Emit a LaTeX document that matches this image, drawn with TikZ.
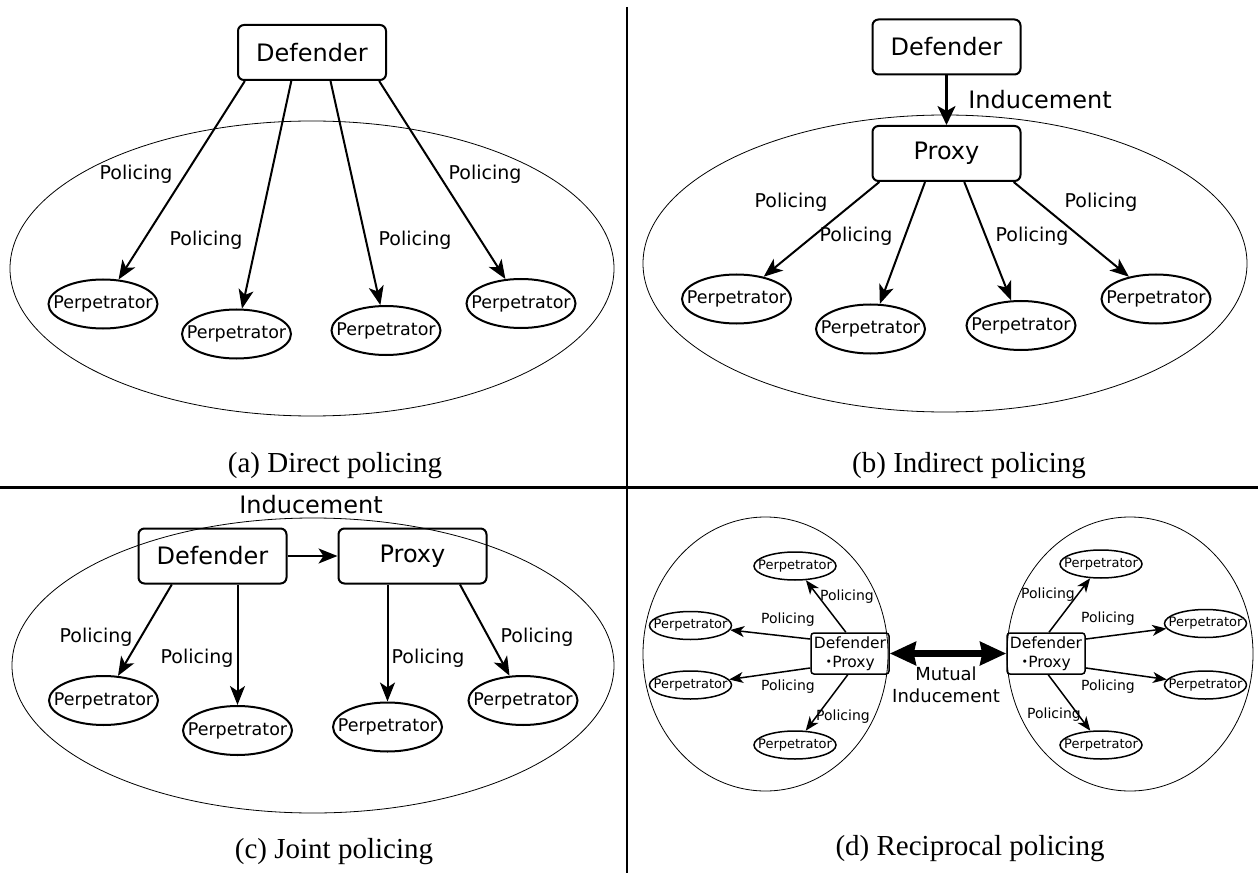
\documentclass[tikz,border=0pt]{standalone}
\usepackage{fontspec}
\setmainfont{DejaVu Sans}
\newfontfamily\capfont{Liberation Serif}
\newfontfamily\cjk{Noto Sans CJK JP}
\usetikzlibrary{arrows.meta,shapes.geometric}
\newcommand{\pname}{\makebox[0pt]{Perpetrator}}

\begin{document}
\begin{tikzpicture}[x=1pt,y=-1pt,
	>={Stealth[length=19pt,width=15pt,inset=5pt]},
	box/.style={draw,rounded corners=6pt,line width=2pt,minimum width=148pt,minimum height=55pt,inner sep=0pt,font=\fontsize{24}{28}\selectfont},
	perp/.style={draw,ellipse,line width=2pt,minimum width=109pt,minimum height=49pt,inner sep=0pt,font=\fontsize{17.5}{20}\selectfont},
	lab/.style={font=\fontsize{19}{22}\selectfont},
	biglab/.style={font=\fontsize{24}{28}\selectfont},
	arr/.style={->,line width=2pt},
	group/.style={line width=0.8pt},
	captext/.style={font=\capfont\fontsize{29}{32}\selectfont},
	sbox/.style={draw,rounded corners=3pt,line width=1.5pt,minimum width=78pt,minimum height=41pt,inner sep=0pt,align=center,font=\fontsize{15.5}{19}\selectfont},
	sperp/.style={draw,ellipse,line width=1.5pt,minimum width=82pt,minimum height=28pt,inner sep=0pt,font=\fontsize{13}{15}\selectfont},
	slab/.style={font=\fontsize{14}{16}\selectfont},
	sarr/.style={-{Stealth[length=14pt,width=11pt,inset=4pt]},line width=1.5pt}]
	
	\useasboundingbox (0,0) rectangle (1258,877);
	\draw[line width=2.5pt] (627,7) -- (627,873);
	\draw[line width=3pt] (0,487) -- (1258,487);
	
	% direct
	
	\draw[group] (312,268.5) ellipse [x radius=302, y radius=147.5];
	\node[box] (DA) at (312,52.5) {Defender};
	\foreach \n/\xx/\yy in {1/103/304,2/236.5/334,3/386/330.5,4/521/303.5}
		\node[perp] (PA\n) at (\xx,\yy) {\pname};
	\foreach \n/\a in {1/203,2/234,3/303,4/337}
		\draw[arr] (DA.\a) -- (PA\n);
	\node[lab] (LA1) at (136,174) {Policing};
	\node[lab] (LA2) at (206,240) {Policing};
	\node[lab] (LA3) at (415,240) {Policing};
	\node[lab] (LA4) at (485,174) {Policing};
	\node[captext] (CA) at (335,466) {(a) Direct policing};
	
	% indirect
	
	\draw[group] (945,263.5) ellipse [x radius=302, y radius=148.5];
	\node[box] (DB) at (946.5,47) {Defender};
	\node[box] (QB) at (946.5,153.5) {Proxy};
	\draw[->,line width=2.8pt,>={Stealth[length=19pt,width=18pt,inset=5pt]}] (DB) -- (QB);
	\node[biglab] (IB) at (1040,100) {Inducement};
	\foreach \n/\xx/\yy in {1/736.5/299,2/870.5/329,3/1021/325.5,4/1156/299}
		\node[perp] (PB\n) at (\xx,\yy) {\pname};
	\foreach \n/\a in {1/203,2/233,3/302,4/337}
		\draw[arr] (QB.\a) -- (PB\n);
	\node[lab] (LB1) at (791,202) {Policing};
	\node[lab] (LB2) at (856,236) {Policing};
	\node[lab] (LB3) at (1032,236) {Policing};
	\node[lab] (LB4) at (1101,202) {Policing};
	\node[captext] (CB) at (969,466) {(b) Indirect policing};
	
	% joint
	
	\draw[group] (313,665.5) ellipse [x radius=301, y radius=147.5];
	\node[biglab] (IC) at (311,505) {Inducement};
	\node[box] (DC) at (212.5,556) {Defender};
	\node[box] (QC) at (412.5,556) {Proxy};
	\draw[arr] (DC) -- (QC);
	\foreach \n/\xx/\yy in {1/103.5/700.5,2/237.5/730.5,3/387.5/727,4/523/700.5}
		\node[perp] (PC\n) at (\xx,\yy) {\pname};
	\draw[arr] (DC.215) -- (PC1);
	\draw[arr] (PC2 |- DC.south) -- (PC2);
	\draw[arr] (PC3 |- QC.south) -- (PC3);
	\draw[arr] (QC.329) -- (PC4);
	\node[lab] (LC1) at (96,637) {Policing};
	\node[lab] (LC2) at (197,658) {Policing};
	\node[lab] (LC3) at (428,658) {Policing};
	\node[lab] (LC4) at (537,637) {Policing};
	\node[captext] (CC) at (334,852) {(c) Joint policing};
	
	% reciprocal
	
	\draw[group] (765.5,654) ellipse [x radius=122.5, y radius=137];
	\draw[group] (1130,654) ellipse [x radius=123, y radius=137];
	\node[sbox] (DL) at (850,653.5) {Defender\\\makebox[7pt]{\cjk ・}Proxy};
	\node[sbox] (DR) at (1046,653.5) {Defender\\\makebox[7pt]{\cjk ・}Proxy};
	\draw[<->,line width=7.5pt,>={Stealth[length=26pt,width=23pt,inset=2pt]}] (DL) -- (DR);
	\node[align=center,font=\fontsize{18}{22}\selectfont] (MI) at (946,685) {Mutual\\Inducement};
	\foreach \n/\xx/\yy in {1/795/566,2/690.5/625.5,3/690.5/685,4/795/745}
		\node[sperp] (L\n) at (\xx,\yy) {\pname};
	\foreach \n/\xx/\yy in {1/1101/564,2/1205.5/623.5,3/1205.5/685,4/1101/745}
		\node[sperp] (R\n) at (\xx,\yy) {\pname};
	\foreach \n/\a in {1/101,2/160,3/200,4/264}
		\draw[sarr] (DL.\a) -- (L\n);
	\foreach \n/\a in {1/82,2/20,3/340,4/276}
		\draw[sarr] (DR.\a) -- (R\n);
	\node[slab] (LL1) at (847,597) {Policing};
	\node[slab] (LL2) at (788,620) {Policing};
	\node[slab] (LL3) at (788,687) {Policing};
	\node[slab] (LL4) at (843,717) {Policing};
	\node[slab] (LR1) at (1048,595) {Policing};
	\node[slab] (LR2) at (1108,619) {Policing};
	\node[slab] (LR3) at (1108,687) {Policing};
	\node[slab] (LR4) at (1054,715) {Policing};
	\node[captext] (CD) at (970,849) {(d) Reciprocal policing};
	
\end{tikzpicture}
\end{document}
